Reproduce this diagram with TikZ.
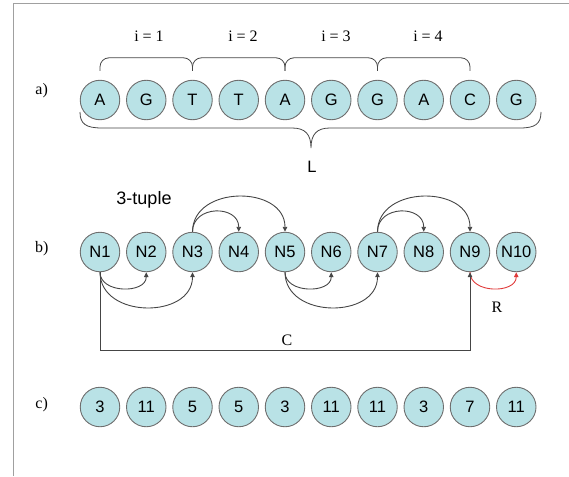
\documentclass[tikz,border=0pt]{standalone}
\usepackage{fontspec}
\setmainfont{Liberation Serif}
\setsansfont{Liberation Sans}
\usetikzlibrary{arrows.meta}
\definecolor{cfill}{HTML}{B9E2E6}
\definecolor{cdraw}{HTML}{6E6E6E}
\definecolor{cline}{HTML}{454545}
\definecolor{cframe}{HTML}{A0A0A0}
\definecolor{cred}{HTML}{E03A3A}
\begin{document}
\begin{tikzpicture}[x=1pt,y=-1pt,
  bead/.style={circle,draw=cdraw,fill=cfill,line width=0.9pt,minimum size=39.5pt,inner sep=0pt,
    font=\sffamily\fontsize{16.5}{16.5}\selectfont},
  lab/.style={font=\fontsize{16}{16}\selectfont},
  slab/.style={font=\sffamily\fontsize{16.5}{16.5}\selectfont},
  arr/.style={cline,line width=0.9pt,-{Triangle[length=5pt,width=4.5pt]}},
  brace/.style={draw=cline,line width=0.8pt}]
\useasboundingbox (0,0) rectangle (569,476);
\draw[cframe,line width=1.5pt] (13.3,476) -- (13.3,3.5) -- (569,3.5);

% row a
\node[lab] (la) at (41.7,91) {a)};
\foreach \t [count=\k] in {A,G,T,T,A,G,G,A,C,G}
  \node[bead] (a\k) at ({100+46.25*(\k-1)},100) {\t};
\foreach \p/\q/\m/\n in {1/3/149/1,3/5/243/2,5/7/336/3,7/9/428/4}{
  \draw[brace,rounded corners=9pt] ([yshift=9pt]a\p.north) -- ([yshift=22pt]a\p.north)
     -- ([yshift=22pt]a\q.north) -- ([yshift=9pt]a\q.north);
  \node[lab] (i\n) at (\m,36) {i = \n};
}
\draw[brace] (80,112) .. controls (80,124) and (86,128) .. (102,128) -- (292,128)
  .. controls (305,128) and (311,134) .. (311,148)
  .. controls (311,134) and (317,128) .. (330,128) -- (520,128)
  .. controls (535,128) and (541,124) .. (541,112);
\node[slab] (L) at (312,167) {L};

% row b
\node[lab] (lb) at (41.7,249) {b)};
\foreach \k in {1,...,10}
  \node[bead] (n\k) at ({100+46.25*(\k-1)},252) {N\k};
\node[slab,font=\sffamily\fontsize{18}{18}\selectfont] (tup) at (144,200) {3-tuple};
\draw[arr] (n1.south) to[out=-90,in=-90,looseness=1.2] (n2.south);
\draw[arr] (n1.south) to[out=-90,in=-90,looseness=1.3] (n3.south);
\draw[arr] (n5.south) to[out=-90,in=-90,looseness=1.2] (n6.south);
\draw[arr] (n5.south) to[out=-90,in=-90,looseness=1.3] (n7.south);
\draw[arr] (n3.north) to[out=90,in=90,looseness=1.5] (n4.north);
\draw[arr] (n3.north) to[out=90,in=90,looseness=1.3] (n5.north);
\draw[arr] (n7.north) to[out=90,in=90,looseness=1.5] (n8.north);
\draw[arr] (n7.north) to[out=90,in=90,looseness=1.3] (n9.north);
\draw[arr,cred] (n9.south) to[out=-90,in=-90,looseness=1.2] (n10.south);
\node[lab] (R) at (497,307) {R};
\coordinate (cbase) at (0,350);
\draw[arr] (n1.south) -- (n1.south |- cbase) -| (n9.south);
\node[lab] (C) at (287,340) {C};

% row c
\node[lab] (lc) at (41.7,405) {c)};
\foreach \t [count=\k] in {3,11,5,5,3,11,11,3,7,11}
  \node[bead] (c\k) at ({100+46.25*(\k-1)},407) {\t};
\end{tikzpicture}
\end{document}
